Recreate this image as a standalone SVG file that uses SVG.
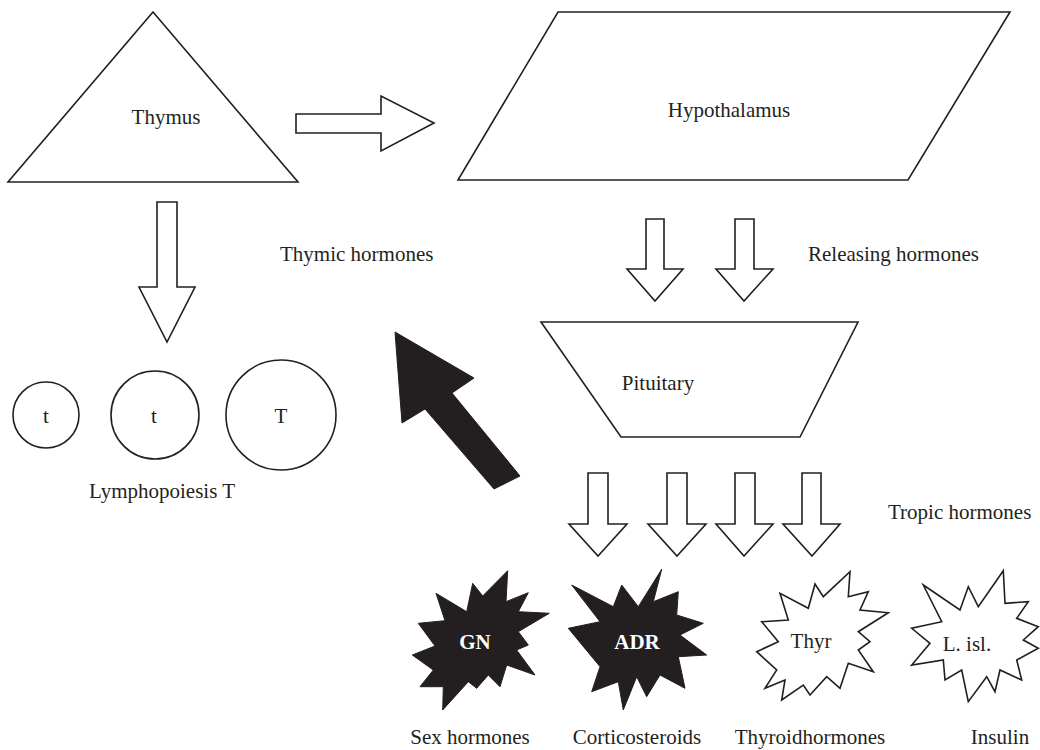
<svg xmlns="http://www.w3.org/2000/svg" width="1040" height="750" viewBox="0 0 1040 750">
<style>
.shape{fill:#fff;stroke:#231f20;stroke-width:1.6;stroke-linejoin:miter}
.dark{fill:#231f20;stroke:#231f20;stroke-width:1}
.lbl{font-family:"Liberation Serif","Times New Roman",serif;font-size:21px;fill:#231f20}
.c{text-anchor:middle}
.w{fill:#fff;font-weight:bold}
</style>
<rect width="1040" height="750" fill="#fff"/>
<g id="thymus">
<polygon class="shape" points="153,12 298,182 8,182"/>
<text class="lbl c" x="166" y="124">Thymus</text>
</g>
<g id="hypothalamus">
<polygon class="shape" points="558,12 1010,12 908,180 458,180"/>
<text class="lbl c" x="729" y="117">Hypothalamus</text>
</g>
<g id="pituitary">
<polygon class="shape" points="541,322 858,322 800,437 621,437"/>
<text class="lbl c" x="658" y="390">Pituitary</text>
</g>
<g id="lymphocytes">
<circle class="shape" cx="46" cy="415" r="33"/>
<text class="lbl c" x="46" y="423">t</text>
<circle class="shape" cx="155" cy="415" r="44"/>
<text class="lbl c" x="154" y="423">t</text>
<circle class="shape" cx="281" cy="415" r="55"/>
<text class="lbl c" x="281" y="423">T</text>
<text class="lbl c" x="162" y="498">Lymphopoiesis T</text>
</g>
<g id="gn">
<polygon class="dark" points="507.7,570.7 506,601.7 528.3,592.7 518.3,611.7 549.3,613.3 518.3,631.7 528.3,645 516.7,650 535,675 506.7,665 500,686.7 488.3,675 476.7,688.3 468.3,681.7 442.7,710 443.3,686.7 420,686.7 433.3,670 412.3,655 435,646 418.3,623.3 445,620.7 436,593.3 466.7,611.7 472.7,583.3 482.7,596"/>
<text class="lbl c w" x="475" y="649">GN</text>
</g>
<g id="adr">
<polygon class="dark" points="661.7,569.3 653.3,601.7 678.3,591.7 676.7,615 703.3,623.3 680,635 706.7,655 678.3,656.7 685,688.3 660,675 646.7,696.7 636.7,676.7 623.3,710 618.3,681.7 591.7,691.7 600,666.7 568.3,628.3 600,621.7 571.7,585 613.3,606.7 621.7,585 638.3,606.7"/>
<text class="lbl c w" x="637" y="649">ADR</text>
</g>
<g id="thyr">
<polygon class="shape" points="850,571.7 848.3,596.7 868.3,591.7 860,610 888.3,612.7 858.3,631.7 870,641.7 858.3,650 873.3,671.7 848.3,663.3 840,688.3 826.7,676.7 810,695 803.3,685 781.7,700 785,680 765,688.3 776.7,670 756.7,651.7 778.3,641.7 761.7,621.7 788.3,620 780,593.3 808.3,608.3 815,584 823.3,596.7"/>
<text class="lbl c" x="811" y="648">Thyr</text>
</g>
<g id="lisl">
<polygon class="shape" points="1003.3,570.7 1005,603.3 1028.3,601.7 1016.7,618.3 1038.3,626.7 1023.3,640 1038.3,648.3 1016.7,660 1021.7,680 1000,670 995,691.7 986.7,676.7 968.3,701.7 961.7,670 945,680 943.3,660 911.7,665 930,643.3 911.7,628.3 941.7,621.7 923.3,585 960,610 968.3,586.7 978.3,606.7"/>
<text class="lbl c" x="967" y="651">L. isl.</text>
</g>
<g id="labels">
<text class="lbl" x="280" y="261">Thymic hormones</text>
<text class="lbl" x="808" y="261">Releasing hormones</text>
<text class="lbl" x="888" y="519">Tropic hormones</text>
<text class="lbl c" x="470" y="744">Sex hormones</text>
<text class="lbl c" x="637" y="744">Corticosteroids</text>
<text class="lbl c" x="810" y="744">Thyroidhormones</text>
<text class="lbl c" x="1000" y="744">Insulin</text>
</g>
<g id="connectors">
<polygon class="shape" points="296,114 381,114 381,96 434,123 381,151 381,133 296,133"/>
<polygon class="shape" points="157,202 177,202 177,287 195,287 167,342 139,287 157,287"/>
<polygon class="shape" points="646,219 664,219 664,269 683,269 655,301 627,269 646,269"/>
<polygon class="shape" points="735,219 754,219 754,269 773,269 744,301 716,269 735,269"/>
<polygon class="shape" points="588,473 608,473 608,524 627,524 598,556 569,524 588,524"/>
<polygon class="shape" points="667,473 687,473 687,524 706,524 677,556 648,524 667,524"/>
<polygon class="shape" points="735,473 755,473 755,524 773,524 744,556 716,524 735,524"/>
<polygon class="shape" points="802,473 821,473 821,524 840,524 812,556 783,524 802,524"/>
<polygon class="dark" points="395,332 474,378 452,393 520,476 494,489 425,409 402,423"/>
</g>
</svg>
